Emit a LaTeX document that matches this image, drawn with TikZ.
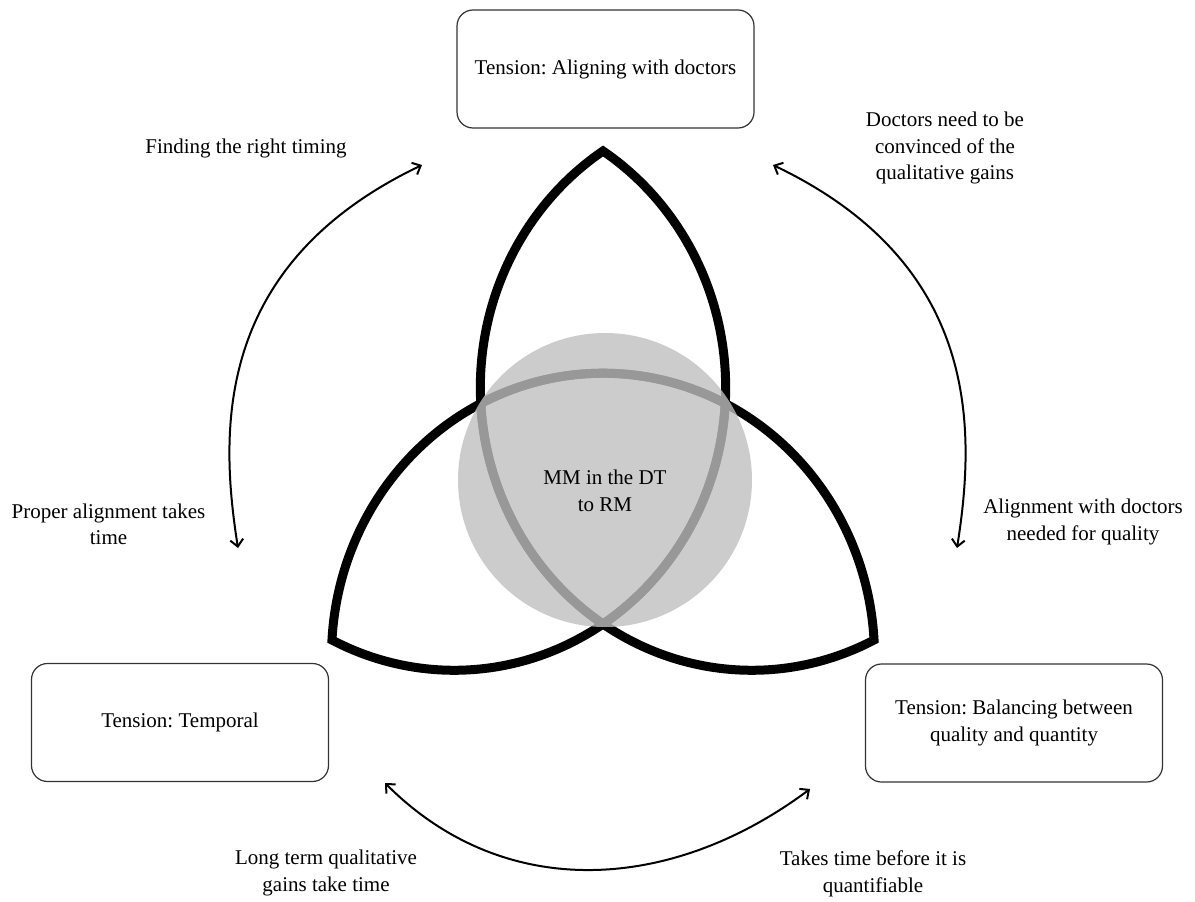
\documentclass[tikz,border=0pt]{standalone}
\usepackage{fontspec}
\setmainfont{Liberation Serif}
\usetikzlibrary{calc,arrows.meta}
\definecolor{hubgray}{gray}{0.75}
\frenchspacing

\begin{document}
\begin{tikzpicture}[x=1pt,y=-1pt,
    font=\fontsize{21}{26.5}\selectfont,
    tensionbox/.style={draw=black!80,line width=1.2pt,fill=white,rectangle,rounded corners=16pt,minimum width=297pt,minimum height=118pt,align=center},
    lobe/.style={line width=9pt,line join=miter},
    hub/.style={circle,fill=hubgray,fill opacity=0.8,minimum size=294pt,inner sep=0pt},
    remark/.style={align=center,inner sep=0pt},
    swing/.style={line width=2pt,{Straight Barb[length=7pt,width=13pt]}-{Straight Barb[length=7pt,width=13pt]}}
    ]

  \useasboundingbox (0,0) rectangle (1195,902);

  \node(doctors) [tensionbox] at (605.5,69) {Tension: Aligning with doctors};
  \node(temporal) [tensionbox] at (180,722.5) {Tension: Temporal};
  \node(balance) [tensionbox] at (1014,723) {Tension: Balancing between\\quality and quantity};

  \begin{scope}[shift={(603,477)},xscale=0.96,yscale=-1]
    \draw[lobe] (0,326) arc[start angle=56.76,end angle=-56.76,radius=282.8] arc[start angle=236.76,end angle=123.24,radius=282.8] -- cycle;
    \draw[lobe,rotate=120] (0,326) arc[start angle=56.76,end angle=-56.76,radius=282.8] arc[start angle=236.76,end angle=123.24,radius=282.8] -- cycle;
    \draw[lobe,rotate=240] (0,326) arc[start angle=56.76,end angle=-56.76,radius=282.8] arc[start angle=236.76,end angle=123.24,radius=282.8] -- cycle;
  \end{scope}

  \node(hub) [hub] at (605,480) {};
  \node(hubName) [remark] at (605,491) {MM in the DT\\to RM};

  \coordinate(timingStart) at (238,548);
  \coordinate(timingEnd) at (422,165);
  \coordinate(convinceStart) at (957,548);
  \coordinate(convinceEnd) at (773,165);
  \coordinate(gainsStart) at (385,783);
  \coordinate(gainsEnd) at (810,789);

  \coordinate(a) at ($(timingStart)+(-19,-120)$);
  \coordinate(b) at ($(timingEnd)+(-207,99)$);
  \coordinate(c) at ($(convinceStart)+(19,-120)$);
  \coordinate(d) at ($(convinceEnd)+(207,99)$);
  \coordinate(e) at ($(gainsStart)+(120,120)$);
  \coordinate(f) at ($(gainsEnd)+(-138,103)$);

  \draw[swing] (timingStart) .. controls (a) and (b) .. (timingEnd);
  \draw[swing] (convinceStart) .. controls (c) and (d) .. (convinceEnd);
  \draw[swing] (gainsStart) .. controls (e) and (f) .. (gainsEnd);

  \node(timingLabel) [remark] at (246,148) {Finding the right timing};
  \node(convinceLabel) [remark] at (945,148) {Doctors need to be\\convinced of the\\qualitative gains};
  \node(properLabel) [remark] at (108.5,524.5) {Proper alignment takes\\time};
  \node(qualityLabel) [remark] at (1083,522) {Alignment with doctors\\needed for quality};
  \node(longLabel) [remark] at (326,873) {Long term qualitative\\gains take time};
  \node(quantLabel) [remark] at (873,874) {Takes time before it is\\quantifiable};

\end{tikzpicture}
\end{document}
